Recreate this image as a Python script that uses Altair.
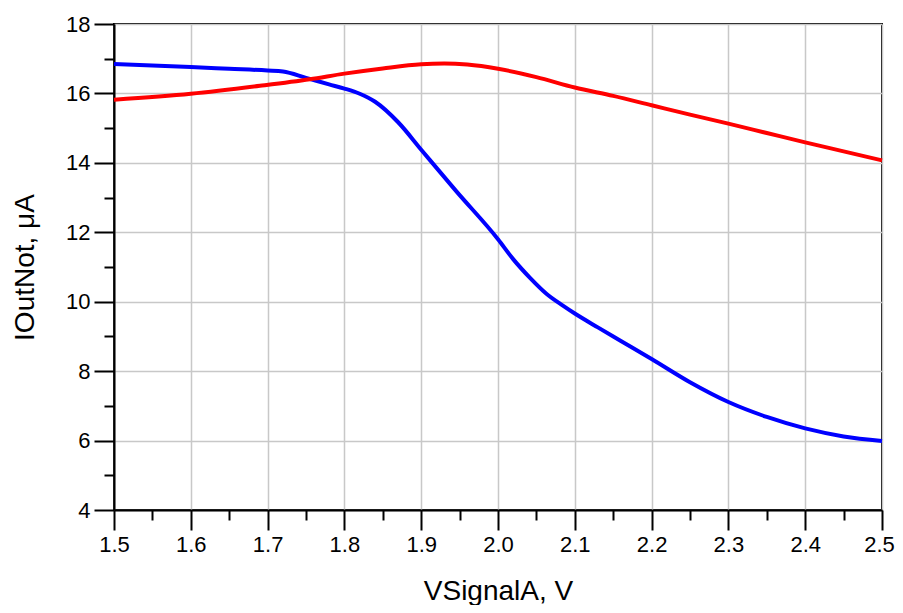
import altair as alt
import pandas as pd

# Blue curve
blue_x = [1.5, 1.6, 1.65, 1.7, 1.72, 1.75, 1.78, 1.8, 1.82, 1.84, 1.87, 1.9, 1.945,
          2.0, 2.02, 2.042, 2.063, 2.085, 2.1, 2.13, 2.16, 2.2, 2.25, 2.3, 2.35, 2.4, 2.45, 2.5]
blue_y = [16.85, 16.76, 16.71, 16.66, 16.63, 16.45, 16.26, 16.14, 15.99, 15.76, 15.17, 14.38, 13.2,
          11.8, 11.22, 10.68, 10.23, 9.88, 9.66, 9.26, 8.87, 8.35, 7.68, 7.11, 6.68, 6.35, 6.12, 5.99]

# Red curve
red_x = [1.5, 1.6, 1.69, 1.755, 1.8, 1.85, 1.9, 1.93, 1.96, 2.0, 2.05, 2.1, 2.15,
         2.2, 2.25, 2.3, 2.35, 2.4, 2.45, 2.5]
red_y = [15.82, 15.99, 16.22, 16.41, 16.57, 16.72, 16.84, 16.86, 16.83, 16.71, 16.47, 16.17, 15.93,
         15.66, 15.39, 15.13, 14.86, 14.59, 14.33, 14.07]

x_ticks = [round(1.5 + 0.05 * i, 2) for i in range(21)]
y_ticks = list(range(4, 19))

df = pd.concat([
    pd.DataFrame({"x": blue_x, "y": blue_y, "s": "blue", "o": 0}),
    pd.DataFrame({"x": red_x, "y": red_y, "s": "red", "o": 1}),
])

x_major = "round(datum.value*100) % 10 == 0"
y_major = "round(datum.value) % 2 == 0"

chart = alt.Chart(df).mark_line(strokeWidth=4, interpolate="monotone").encode(
    x=alt.X("x:Q", scale=alt.Scale(domain=[1.5, 2.5], nice=False, zero=False),
            axis=alt.Axis(
                title="VSignalA, V", values=x_ticks,
                labelExpr=f"{x_major} ? format(datum.value, '.1f') : ''",
                tickSize={"condition": {"test": x_major, "value": 20}, "value": 10},
                gridOpacity={"condition": {"test": x_major, "value": 1}, "value": 0},
                labelOffset={"condition": {"test": "datum.value > 2.49", "value": -3}, "value": 0},
                labelPadding=4, titlePadding=22, labelFlush=False,
            )),
    y=alt.Y("y:Q", scale=alt.Scale(domain=[4, 18], nice=False, zero=False),
            axis=alt.Axis(
                title="IOutNot, μA", values=y_ticks,
                labelExpr=f"{y_major} ? format(datum.value, 'd') : ''",
                tickSize={"condition": {"test": y_major, "value": 20}, "value": 10},
                gridOpacity={"condition": {"test": y_major, "value": 1}, "value": 0},
                labelPadding=4, titlePadding=26, labelFlush=False,
            )),
    color=alt.Color("s:N", scale=alt.Scale(domain=["blue", "red"], range=["#0000ff", "#ff0000"]), legend=None),
    order=alt.Order("o:Q"),
    detail="s:N",
).properties(
    width=768, height=486,
    autosize=alt.AutoSizeParams(type="none"),
    padding={"left": 106, "top": 16, "right": 13, "bottom": 95},
).configure_view(
    stroke="black", strokeWidth=2,
).configure_axis(
    domainColor="black", domainWidth=2,
    tickColor="black", tickWidth=2,
    gridColor="#c8c8c8", gridWidth=1.5,
    labelFont="Liberation Sans", labelFontSize=22, labelColor="black",
    titleFont="Liberation Sans", titleFontSize=28, titleFontWeight="normal", titleColor="black",
)

chart.save("out.html", embed_options={"renderer": "svg", "actions": False})
